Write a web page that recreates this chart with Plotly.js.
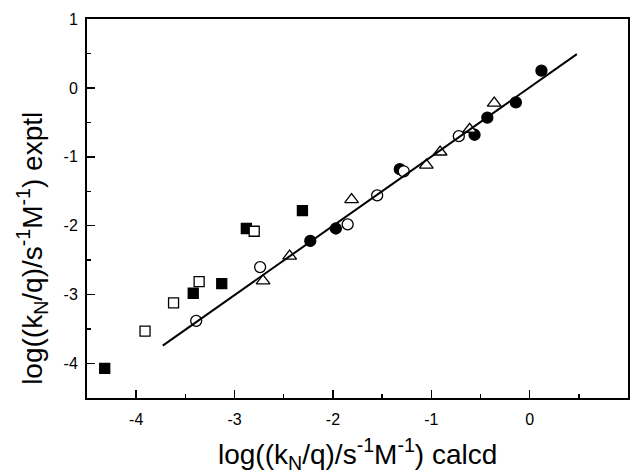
<!DOCTYPE html>
<html>
<head>
<meta charset="utf-8">
<script src="https://cdn.plot.ly/plotly-3.0.1.min.js"></script>
<style>html,body{margin:0;padding:0;background:#fff;}#chart{width:631px;height:476px;}</style>
</head>
<body>
<div id="chart"></div>
<script>
// Filled squares
const filledSqX = [-4.32, -3.42, -3.13, -2.88, -2.31];
const filledSqY = [-4.07, -2.98, -2.84, -2.04, -1.78];
// Open squares
const openSqX = [-3.91, -3.62, -3.36, -2.80];
const openSqY = [-3.53, -3.12, -2.81, -2.08];
// Filled circles
const filledCirX = [-2.23, -1.97, -1.32, -0.56, -0.43, -0.14, 0.12];
const filledCirY = [-2.22, -2.04, -1.18, -0.68, -0.43, -0.21, 0.25];
// Open circles
const openCirX = [-3.39, -2.74, -1.85, -1.55, -1.28, -0.72];
const openCirY = [-3.38, -2.60, -1.98, -1.56, -1.21, -0.70];
// Open triangles
const triX = [-2.71, -2.44, -1.81, -1.05, -0.91, -0.61, -0.36];
const triY = [-2.80, -2.44, -1.62, -1.12, -0.93, -0.60, -0.22];
// Fit line endpoints
const fitX = [-3.73, 0.48];
const fitY = [-3.74, 0.49];

// Tick values and labels
const tickVals = [-4, -3, -2, -1, 0, 1];
const tickLabels = ['-4', '-3', '-2', '-1', '0', '1'];

const xTitle = 'log((k<sub>N</sub>/q)/s<sup>-1</sup>M<sup>-1</sup>) calcd';
const yTitle = 'log((k<sub>N</sub>/q)/s<sup>-1</sup>M<sup>-1</sup>) exptl';

const FONT = 'Liberation Sans, Arial, sans-serif';
const mk = (sym, size, fill) => ({symbol: sym, size: size, color: fill, line: {color: '#000', width: 1.3}});

const traces = [
  {x: filledSqX, y: filledSqY, mode: 'markers', type: 'scatter', marker: mk('square', 10, '#000')},
  {x: openSqX, y: openSqY, mode: 'markers', type: 'scatter', marker: mk('square', 10, '#fff')},
  {x: filledCirX, y: filledCirY, mode: 'markers', type: 'scatter', marker: mk('circle', 11, '#000')},
  {x: openCirX, y: openCirY, mode: 'markers', type: 'scatter', marker: mk('circle', 11, '#fff')},
  {x: triX, y: triY, mode: 'markers', type: 'scatter', marker: mk('triangle-up', 12, '#fff')},
  {x: fitX, y: fitY, mode: 'lines', type: 'scatter', line: {color: '#000', width: 2}}
];

const axisCommon = {
  showline: true, linecolor: '#000', linewidth: 2, mirror: true,
  ticks: 'inside', ticklen: 8, tickwidth: 1.5, tickcolor: '#000',
  showgrid: false, zeroline: false,
  tickmode: 'array', tickvals: tickVals, ticktext: tickLabels,
  tickfont: {family: FONT, size: 16, color: '#000'},
  minor: {ticks: 'inside', ticklen: 4, tickwidth: 1.5, tickcolor: '#000', dtick: 0.5, tick0: 0, showgrid: false}
};

const layout = {
  width: 631, height: 476,
  margin: {l: 87, r: 3, t: 19, b: 78},
  paper_bgcolor: '#fff', plot_bgcolor: '#fff',
  showlegend: false,
  xaxis: Object.assign({}, axisCommon, {range: [-4.5, 1], ticklabelstandoff: 6}),
  yaxis: Object.assign({}, axisCommon, {range: [-4.5, 1], ticklabelstandoff: 4}),
  annotations: [
    {text: xTitle, xref: 'paper', yref: 'paper', x: 0.5, y: -0.148, xanchor: 'center', yanchor: 'middle',
     showarrow: false, font: {family: FONT, size: 28, color: '#000'}},
    {text: yTitle, xref: 'paper', yref: 'paper', x: -0.1006, y: 0.395, xanchor: 'center', yanchor: 'middle',
     textangle: -90, showarrow: false, font: {family: FONT, size: 28, color: '#000'}}
  ]
};

Plotly.newPlot('chart', traces, layout, {displayModeBar: false, staticPlot: true});
</script>
</body>
</html>
